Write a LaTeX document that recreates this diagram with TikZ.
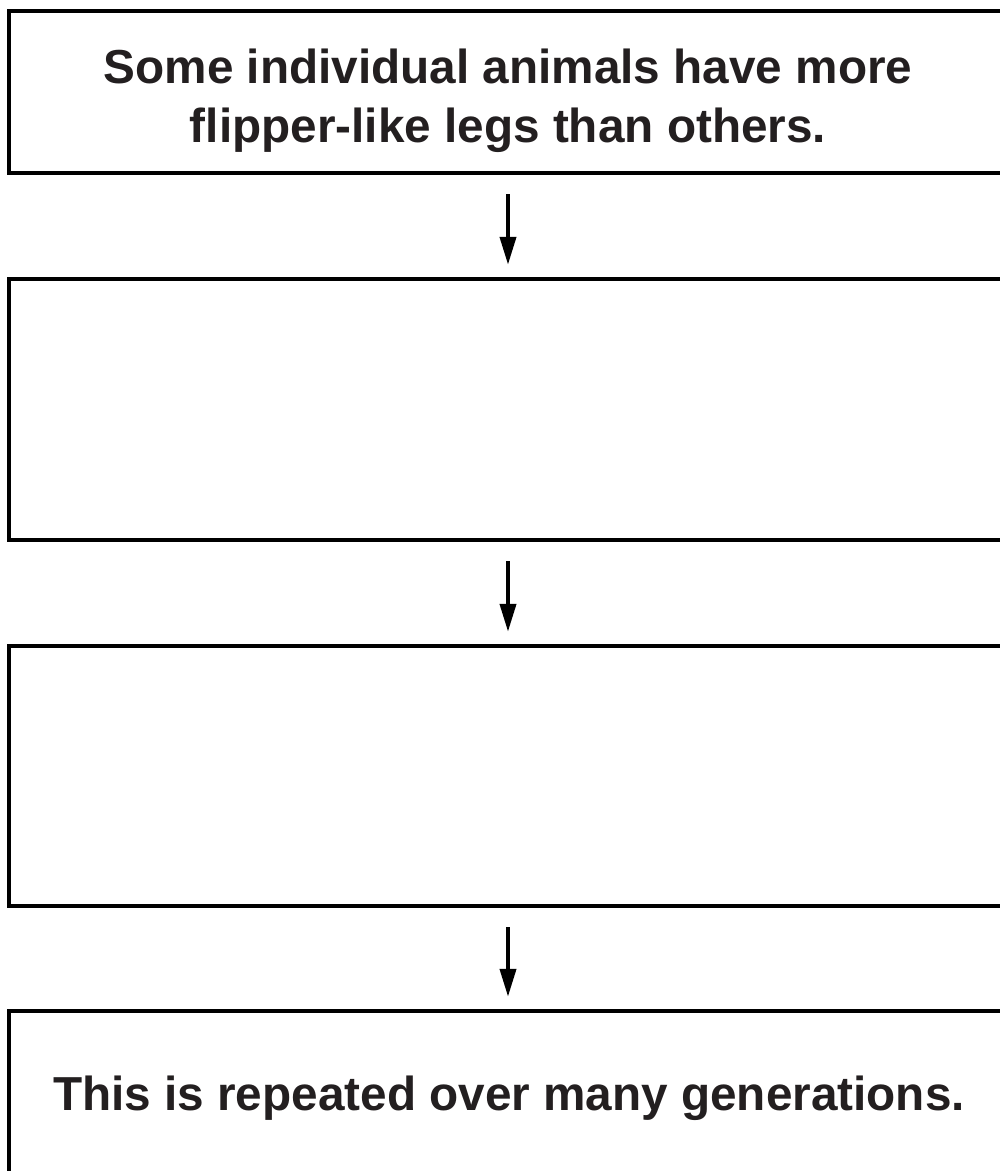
\documentclass[tikz,border=0pt]{standalone}
\usepackage{fontspec}
\setmainfont{Liberation Sans}
\usetikzlibrary{arrows.meta}
\definecolor{ink}{HTML}{231F20}
\begin{document}
\begin{tikzpicture}[x=1pt,y=-1pt,
  stagebox/.style={draw=black,line width=4.5pt,rectangle,minimum width=998pt,inner sep=0pt},
  caption/.style={anchor=base,inner sep=0pt,text=ink,font=\fontsize{47.7}{57}\selectfont\bfseries},
  flow/.style={draw=black,line width=4pt,-{Triangle[length=28pt,width=16pt]}}]
  \useasboundingbox (0,0) rectangle (1000,1171);
  % four stages, the last one running off the lower edge
  \node[stagebox,minimum height=162pt] (b1) at (508,92) {};
  \node[stagebox,minimum height=261pt] (b2) at (508,409.5) {};
  \node[stagebox,minimum height=260pt] (b3) at (508,776) {};
  \node[stagebox,minimum height=260pt] (b4) at (508,1141) {};
  % texts
  \node[caption] (t1a) at (508,83) {Some individual animals have more};
  \node[caption] (t1b) at (508,142) {flipper-like legs than others.};
  \node[caption] (t4) at (509,1110) {This is repeated over many generations.};
  % arrows between stages
  \draw[flow] ([yshift=-19pt]b1.south) -- ([yshift=12pt]b2.north);
  \draw[flow] ([yshift=-19pt]b2.south) -- ([yshift=12pt]b3.north);
  \draw[flow] ([yshift=-19pt]b3.south) -- ([yshift=12pt]b4.north);
\end{tikzpicture}
\end{document}
